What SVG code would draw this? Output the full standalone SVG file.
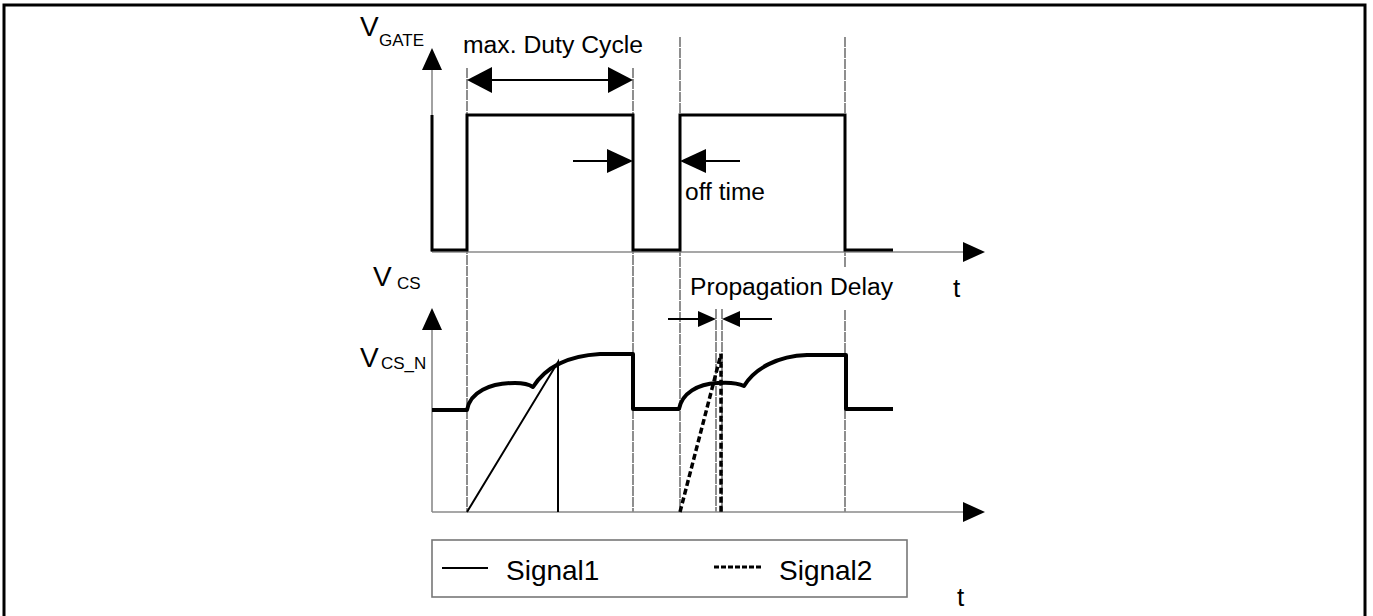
<svg xmlns="http://www.w3.org/2000/svg" width="1373" height="616" viewBox="0 0 1373 616">
<defs>
<style>
.axis{stroke:#8a8a8a;stroke-width:1.6;fill:none}
.guide{stroke:#333;stroke-width:1.1;fill:none;stroke-dasharray:10 1}
.sig{stroke:#000;stroke-width:3;fill:none;stroke-linejoin:miter}
.cs{stroke:#000;stroke-width:4;fill:none;stroke-linejoin:round}
.thin{stroke:#000;stroke-width:2;fill:none}
.dash{stroke:#000;stroke-width:3.5;fill:none;stroke-dasharray:6 3}
.dim{stroke:#000;stroke-width:2;fill:none}
.head{fill:#000}
.lbl{font-family:"Liberation Sans",Arial,sans-serif;fill:#000}
</style>
</defs>
<rect x="4" y="5" width="1361" height="620" fill="#fff" stroke="#000" stroke-width="3"/>
<g id="guides">
<line class="guide" x1="467" y1="68" x2="467" y2="512"/>
<line class="guide" x1="633" y1="68" x2="633" y2="512"/>
<line class="guide" x1="680" y1="37" x2="680" y2="512"/>
<line class="guide" x1="845" y1="37" x2="845" y2="268"/>
<line class="guide" x1="845" y1="310" x2="845" y2="512"/>
<line class="guide" x1="716" y1="309" x2="716" y2="512"/>
<line class="guide" x1="722" y1="309" x2="722" y2="512"/>
</g>
<g id="axes">
<line class="axis" x1="432" y1="66" x2="432" y2="252"/>
<line class="axis" x1="432" y1="252" x2="966" y2="252"/>
<polygon class="head" points="432,48 422,70 442,70"/>
<polygon class="head" points="985,252 963,242 963,262"/>
<line class="axis" x1="432" y1="328" x2="432" y2="512"/>
<line class="axis" x1="432" y1="512" x2="966" y2="512"/>
<polygon class="head" points="432,308 422,330 442,330"/>
<polygon class="head" points="985,512 963,502 963,522"/>
</g>
<g id="vgate">
<path class="sig" d="M432,115 V250 H467 V115 H633 V250 H680 V115 H845 V250 H893"/>
</g>
<g id="vcs">
<path class="cs" d="M432,410 H467 C470,392 490,383 515,383 C525,383 530,385 533,387 C545,368 565,356 600,354 H633 V409 H679 C682,393 698,384 717,383 C730,382 738,383 744,386 C755,368 778,356 807,355 H846 V409 H893"/>
</g>
<g id="signal1">
<path class="thin" d="M467,512 L558,362 V512"/>
</g>
<g id="signal2">
<path class="dash" d="M680,512 L721,354 V512"/>
</g>
<g id="connectors">
<line class="dim" x1="490" y1="80" x2="610" y2="80"/>
<polygon class="head" points="467,80 492,67 492,93"/>
<polygon class="head" points="633,80 608,67 608,93"/>
<line class="dim" x1="573" y1="161" x2="610" y2="161"/>
<polygon class="head" points="633,161 607,149 607,173"/>
<line class="dim" x1="705" y1="161" x2="740" y2="161"/>
<polygon class="head" points="680,161 706,149 706,173"/>
<line class="dim" x1="668" y1="319" x2="700" y2="319"/>
<polygon class="head" points="716,319 698,311 698,327"/>
<line class="dim" x1="738" y1="319" x2="772" y2="319"/>
<polygon class="head" points="722,319 740,311 740,327"/>
</g>
<g id="labels">
<text class="lbl" x="360" y="36" font-size="28">V</text>
<text class="lbl" x="379" y="46" font-size="17">GATE</text>
<text class="lbl" x="463" y="53" font-size="23" textLength="180" lengthAdjust="spacingAndGlyphs">max. Duty Cycle</text>
<text class="lbl" x="685" y="200" font-size="23" textLength="80" lengthAdjust="spacingAndGlyphs">off time</text>
<text class="lbl" x="690" y="295" font-size="23" textLength="203" lengthAdjust="spacingAndGlyphs">Propagation Delay</text>
<text class="lbl" x="373" y="286" font-size="28">V</text>
<text class="lbl" x="397" y="289" font-size="17">CS</text>
<text class="lbl" x="360" y="367" font-size="28">V</text>
<text class="lbl" x="381" y="369" font-size="17">CS_N</text>
<text class="lbl" x="953" y="297" font-size="26">t</text>
<text class="lbl" x="957" y="606" font-size="26">t</text>
</g>
<g id="legend">
<rect x="432" y="540" width="475" height="57" fill="none" stroke="#777" stroke-width="1.6"/>
<line x1="442" y1="568" x2="488" y2="568" stroke="#000" stroke-width="2"/>
<text class="lbl" x="506" y="580" font-size="28">Signal1</text>
<line x1="714" y1="567" x2="763" y2="567" stroke="#000" stroke-width="3" stroke-dasharray="5 2"/>
<text class="lbl" x="779" y="580" font-size="28">Signal2</text>
</g>
</svg>
